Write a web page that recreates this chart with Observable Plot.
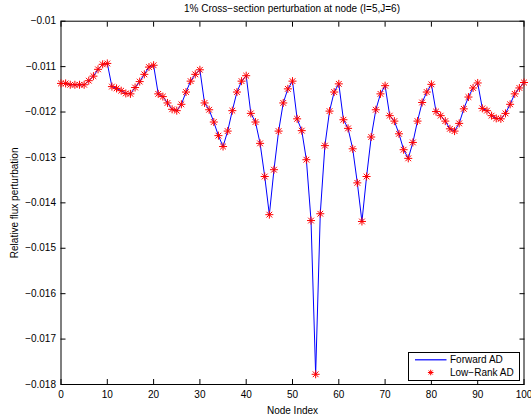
<!DOCTYPE html>
<html>
<head>
<meta charset="utf-8">
<script src="https://cdn.jsdelivr.net/npm/d3@7"></script>
<script src="https://cdn.jsdelivr.net/npm/@observablehq/plot@0.6"></script>
<style>
  html, body { margin: 0; padding: 0; background: #fff; }
  #wrap { position: relative; width: 531px; height: 415px; font-family: "Liberation Sans", Arial, sans-serif; }
  #title { position: absolute; left: 0; top: 0; width: 531px; height: 18px; line-height: 18px; box-sizing: border-box; padding-left: 53px; text-align: center; font-size: 10px; color: #000; }
  #legend { position: absolute; left: 408px; top: 352px; }
</style>
</head>
<body>
<div id="wrap">
  <div id="chart"></div>
  <div id="title"></div>
  <svg id="legend" width="113" height="30"></svg>
</div>
<script>
const titleText = "1% Cross\u2212section perturbation at node (I=5,J=6)";
const xLabel = "Node Index";
const yLabel = "Relative flux perturbation";
const seriesNames = ["Forward AD", "Low\u2212Rank AD"];

// Relative flux perturbation at node indices 0..100
const flux = [
  -0.01137, -0.01137, -0.01140, -0.01140, -0.01140, -0.01140, -0.01131, -0.01121, -0.01106, -0.01095,
  -0.01093, -0.01144, -0.01148, -0.01153, -0.01159, -0.01160, -0.01146, -0.01133, -0.01117, -0.01101,
  -0.01097, -0.01160, -0.01166, -0.01180, -0.01194, -0.01197, -0.01183, -0.01156, -0.01132, -0.01117,
  -0.01107, -0.01180, -0.01195, -0.01222, -0.01252, -0.01276, -0.01242, -0.01197, -0.01156, -0.01132,
  -0.01120, -0.01203, -0.01222, -0.01269, -0.01342, -0.01426, -0.01327, -0.01242, -0.01180, -0.01149,
  -0.01132, -0.01215, -0.01241, -0.01305, -0.01439, -0.017775, -0.01424, -0.01274, -0.01198, -0.01156,
  -0.01138, -0.01217, -0.01236, -0.01281, -0.01356, -0.01441, -0.01342, -0.01255, -0.01195, -0.01160,
  -0.01142, -0.01208, -0.01220, -0.01248, -0.01283, -0.01302, -0.01267, -0.01220, -0.01179, -0.01156,
  -0.01139, -0.01199, -0.01208, -0.01220, -0.01237, -0.01242, -0.01225, -0.01193, -0.01167, -0.01147,
  -0.01136, -0.01192, -0.01197, -0.01208, -0.01214, -0.01215, -0.01203, -0.01183, -0.01160, -0.01147,
  -0.01135
];

const xTicks = [0, 10, 20, 30, 40, 50, 60, 70, 80, 90, 100];
const yTicks = [-0.018, -0.017, -0.016, -0.015, -0.014, -0.013, -0.012, -0.011, -0.01];
const yTickLabels = ["\u22120.018", "\u22120.017", "\u22120.016", "\u22120.015", "\u22120.014", "\u22120.013", "\u22120.012", "\u22120.011", "\u22120.01"];

const data = flux.map((v, i) => ({node: i, value: v}));

document.getElementById("title").textContent = titleText;

const chart = Plot.plot({
  width: 531,
  height: 415,
  marginTop: 20.7,
  marginBottom: 31,
  marginLeft: 60.5,
  marginRight: 7.5,
  style: {fontFamily: "'Liberation Sans', Arial, sans-serif", fontSize: "10px", background: "white", color: "black"},
  x: {domain: [0, 100]},
  y: {domain: [-0.018, -0.01]},
  marks: [
    Plot.axisX(xTicks, {anchor: "bottom", tickSize: 0, tickPadding: 6, label: xLabel, labelAnchor: "center", labelArrow: false, labelOffset: 29}),
    Plot.axisX(xTicks, {anchor: "bottom", tickSize: -5, text: null, label: null}),
    Plot.axisX(xTicks, {anchor: "top", tickSize: -5, text: null, label: null}),
    Plot.axisY(yTicks, {anchor: "left", tickSize: 0, tickPadding: 5, tickFormat: (d, i) => yTickLabels[i], label: yLabel, labelAnchor: "center", labelArrow: false, labelOffset: 50}),
    Plot.axisY(yTicks, {anchor: "left", tickSize: -5, text: null, label: null}),
    Plot.axisY(yTicks, {anchor: "right", tickSize: -5, text: null, label: null}),
    Plot.frame({stroke: "black", strokeWidth: 1}),
    Plot.line(data, {x: "node", y: "value", stroke: "#0000ff", strokeWidth: 1}),
    Plot.dot(data, {x: "node", y: "value", symbol: "plus", r: 2.7, stroke: "#ff0000", strokeWidth: 1}),
    Plot.dot(data, {x: "node", y: "value", symbol: "times", r: 2.7, stroke: "#ff0000", strokeWidth: 1})
  ]
});
document.getElementById("chart").appendChild(chart);

// Legend
const lg = d3.select("#legend");
lg.append("rect").attr("x", 0.5).attr("y", 0.5).attr("width", 111).attr("height", 28)
  .style("fill", "white").style("stroke", "black").style("stroke-width", "1px");
lg.append("line").attr("x1", 7).attr("x2", 38.5).attr("y1", 7.8).attr("y2", 7.8)
  .style("stroke", "#0000ff").style("stroke-width", "1.2px");
const ast = lg.append("g").attr("transform", "translate(22.7,20.5)").style("stroke", "#ff0000").style("stroke-width", "1px").style("fill", "none");
ast.append("path").attr("d", "M-2.8,0H2.8M0,-2.8V2.8M-2,-2L2,2M-2,2L2,-2");
lg.selectAll("text.lab").data(seriesNames).join("text")
  .attr("x", 42).attr("y", (d, i) => 7.5 + i * 13.3).attr("dy", "0.35em")
  .attr("font-size", 10).attr("font-family", "'Liberation Sans', Arial, sans-serif")
  .style("fill", "black")
  .text(d => d);
</script>
</body>
</html>
